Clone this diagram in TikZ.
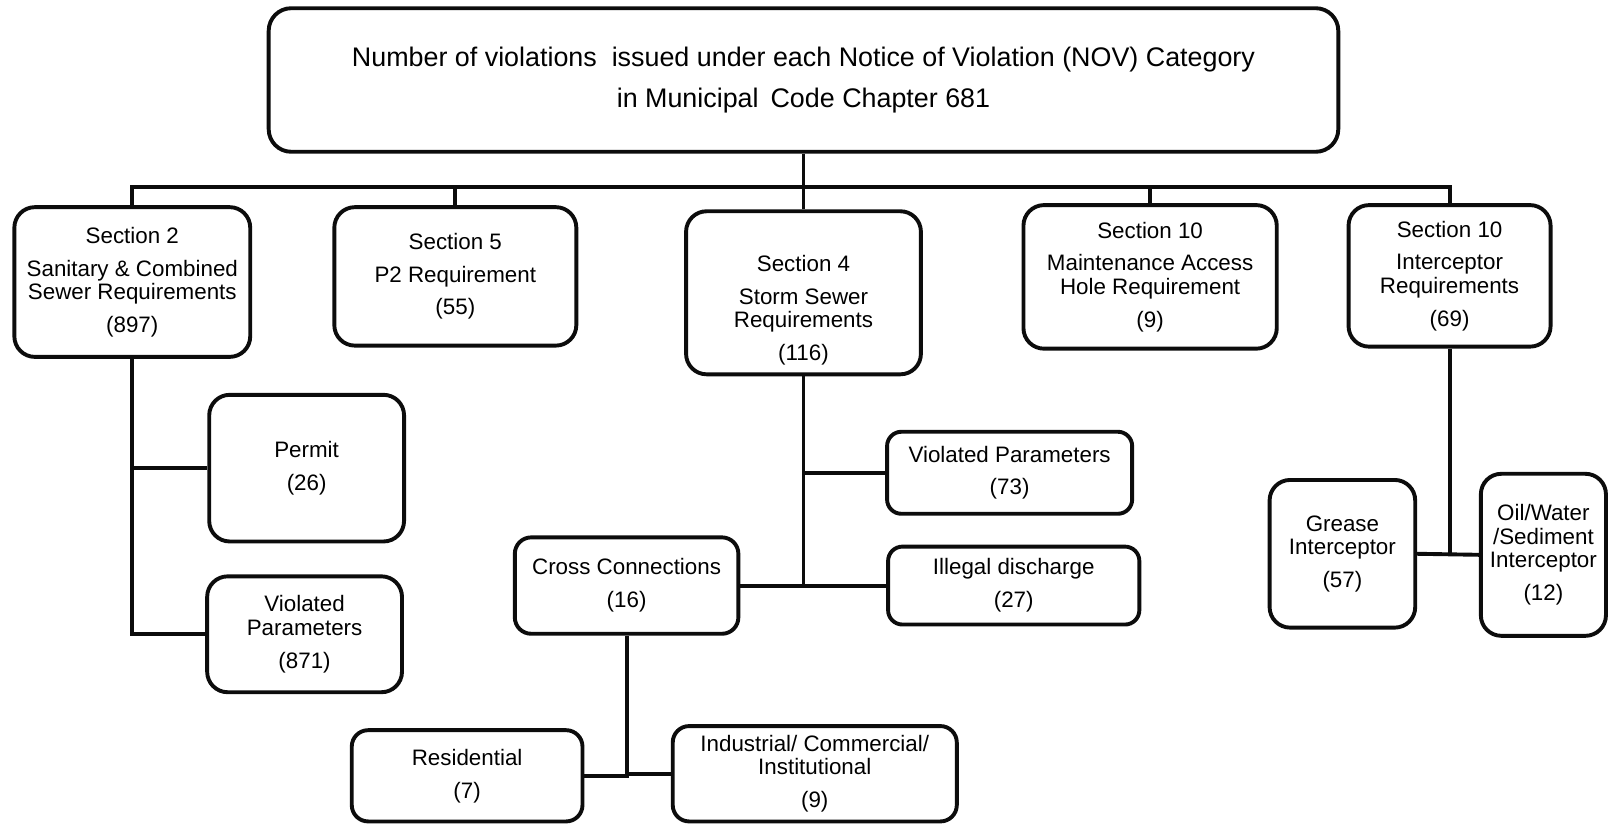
\documentclass[tikz,border=0pt]{standalone}
\usepackage{fontspec}
\setmainfont{Liberation Sans}
\usepackage{xcolor}
\usepackage{tikz}
\usetikzlibrary{calc}
\definecolor{boxline}{RGB}{12,12,12}
\tikzset{
  box/.style 2 args={rectangle,draw=boxline,line width=1.9pt,fill=white,minimum width=#1,
    minimum height=#2,inner sep=0pt,rounded corners=10pt,align=center,
    font=\fontsize{10.9}{11.5}\selectfont},
  headbox/.style={rectangle,draw=boxline,line width=1.9pt,fill=white,minimum width=521.5pt,
    minimum height=70pt,inner sep=0pt,rounded corners=11pt,align=center,
    font=\fontsize{13.1}{20}\selectfont},
  link/.style={line width=1.9pt,color=boxline}
}
\newcommand{\gap}{\\[4.5pt]}

\begin{document}
\begin{tikzpicture}[x=0.5pt,y=-0.5pt]
    \useasboundingbox (0,0) rectangle (1568,804);
    \node[headbox] (title) at (783.5,78) {Number of violations\ \ issued under each Notice of Violation (NOV) Category\\in Municipal\ \,Code Chapter 681};

    \node[box={115pt}{73pt}] (sec2) at (129,275) {Section 2\gap Sanitary \& Combined\\Sewer Requirements\gap (897)};
    \node[box={118pt}{67.5pt}] (sec5) at (444,269.5) {Section 5\gap P2 Requirement\gap (55)};
    \node[box={114.5pt}{79.5pt}] (sec4) at (783.5,285.5) {\rule{0pt}{25pt}Section 4\gap Storm Sewer\\Requirements\gap (116)};
    \node[box={123.5pt}{70pt}] (mah) at (1121.5,270) {Section 10\gap Maintenance Access\\Hole Requirement\gap (9)};
    \node[box={98.5pt}{69pt}] (intr) at (1413.5,269) {Section 10\gap Interceptor\\Requirements\gap (69)};

    \node[box={95pt}{71.5pt}] (permit) at (299,456.5) {Permit\gap (26)};
    \node[box={95pt}{56.5pt}] (vpleft) at (297,618.5) {Violated\\Parameters\gap (871)};

    \node[box={119.5pt}{40pt},rounded corners=7pt] (vpstorm) at (984.5,461) {Violated Parameters\gap (73)};
    \node[box={122.5pt}{38pt},rounded corners=7pt] (illegal) at (988.5,571) {Illegal discharge\gap (27)};
    \node[box={109pt}{47pt},rounded corners=8pt] (cross) at (611,571) {Cross Connections\gap (16)};
    \node[box={112.5pt}{44.5pt},rounded corners=8pt] (resid) at (455.5,756.5) {Residential\gap (7)};
    \node[box={138.5pt}{46.5pt},rounded corners=8pt] (indus) at (794.5,754.5) {Industrial/ Commercial/\\Institutional\gap (9)};

    \node[box={71pt}{72pt}] (grease) at (1309,540) {Grease\\Interceptor\gap (57)};
    \node[box={61pt}{79pt}] (oil) at (1505,541) {Oil/Water\\/Sediment\\Interceptor\gap (12)};

    \coordinate (bus) at (783.5,182);
    \draw[link] (title.south) -- (bus);
    \foreach \n in {sec2,sec5,mah,intr}
      \draw[link] (\n.north) |- (bus);
    \draw[link] (sec4.north) -- (bus);

    \draw[link] (sec2.south) |- (vpleft.west);
    \draw[link] (sec2.south |- permit.west) -- (permit.west);

    \draw[link] (sec4.south) |- (illegal.west);
    \draw[link] (sec4.south |- vpstorm.west) -- (vpstorm.west);
    \draw[link] (cross.east) -- (cross.east -| sec4.south);

    \draw[link] (cross.south) |- (resid.east);
    \draw[link] (cross.south |- indus.west) -- (indus.west);

    \draw[link] (intr.south) -- (intr.south |- grease.east);
    \draw[link] (grease.east) -- (oil.west);
\end{tikzpicture}
\end{document}
